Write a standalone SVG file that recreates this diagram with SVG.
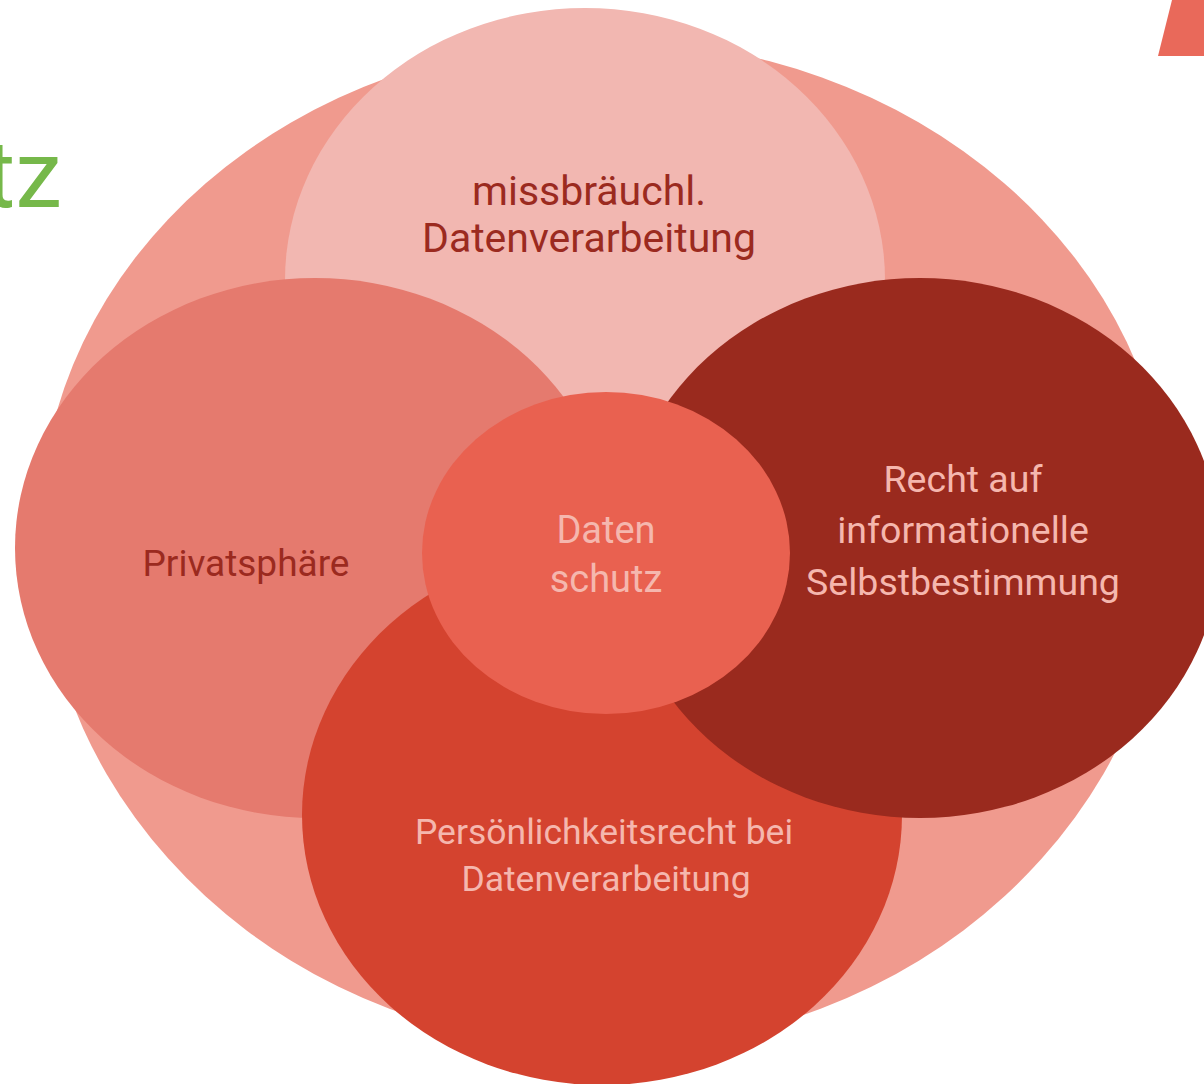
<svg xmlns="http://www.w3.org/2000/svg" width="1204" height="1084" viewBox="0 0 1204 1084">
  <style>
    .lbl { font-family: Roboto, "Open Sans", "Liberation Sans", sans-serif; text-anchor: middle; }
    .dark { fill: #9B2A1F; }
    .light { fill: #F5B7AE; }
  </style>
  <rect width="1204" height="1084" fill="#FFFFFF"/>
  <text x="62" y="207" font-family="Roboto, 'Open Sans', sans-serif" font-size="94" fill="#76B84A" text-anchor="end">tz</text>
  <polygon points="1172,0 1204,0 1204,56 1158,56" fill="#E9695A"/>

  <g id="background">
    <path fill="#F09A8E" d="M40,530 A565,490 0 0 1 1170,530 A565,518 0 0 1 40,530 Z"/>
  </g>

  <g id="node-top">
    <ellipse cx="585" cy="280" rx="300" ry="272" fill="#F2B7B1"/>
    <text class="lbl dark" x="589" y="205" font-size="41">missbräuchl.</text>
    <text class="lbl dark" x="589" y="252" font-size="41">Datenverarbeitung</text>
  </g>

  <g id="node-left">
    <ellipse cx="315" cy="548" rx="300" ry="270" fill="#E57A6E"/>
    <text class="lbl dark" x="246" y="576" font-size="37">Privatsphäre</text>
  </g>

  <g id="node-bottom">
    <ellipse cx="602" cy="815" rx="300" ry="270" fill="#D4432F"/>
    <text class="lbl light" x="604" y="844" font-size="35.5">Persönlichkeitsrecht bei</text>
    <text class="lbl light" x="606" y="891" font-size="35.5">Datenverarbeitung</text>
  </g>

  <g id="node-right">
    <ellipse cx="920" cy="548" rx="300" ry="270" fill="#9A2A1E"/>
    <text class="lbl light" x="963" y="492" font-size="37.5">Recht auf</text>
    <text class="lbl light" x="963" y="543" font-size="37.5">informationelle</text>
    <text class="lbl light" x="963" y="595" font-size="37.5">Selbstbestimmung</text>
  </g>

  <g id="node-center">
    <ellipse cx="606" cy="553" rx="184" ry="161" fill="#E96150"/>
    <text class="lbl light" x="606" y="543" font-size="38">Daten</text>
    <text class="lbl light" x="606" y="592" font-size="38">schutz</text>
  </g>
</svg>
